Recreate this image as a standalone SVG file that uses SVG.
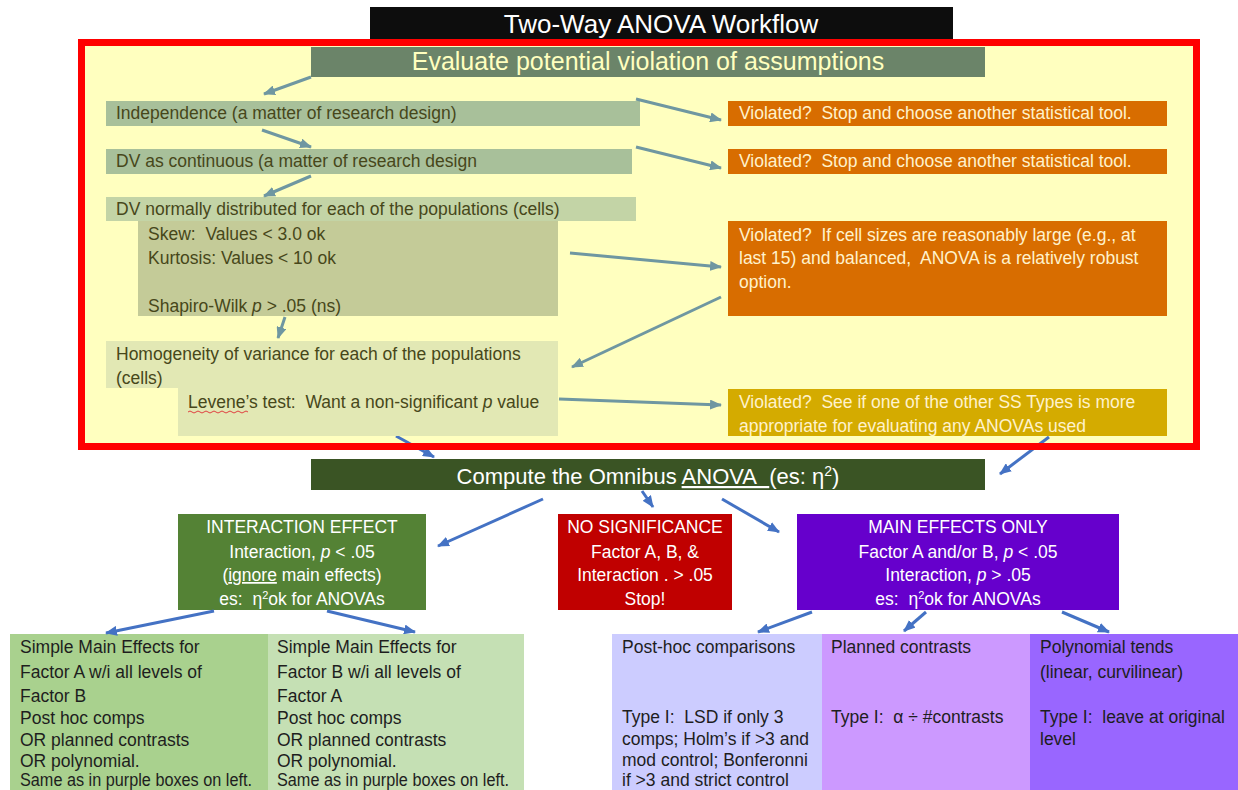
<svg xmlns="http://www.w3.org/2000/svg" width="1238" height="790" viewBox="0 0 1238 790">
<defs>
<marker id="ag" viewBox="0 0 12 10" refX="11" refY="5" markerWidth="12" markerHeight="10" markerUnits="userSpaceOnUse" orient="auto"><path d="M0,0 L12,5 L0,10 z" fill="#6F97A1"/></marker>
<marker id="ab" viewBox="0 0 12 10" refX="11" refY="5" markerWidth="12" markerHeight="10" markerUnits="userSpaceOnUse" orient="auto"><path d="M0,0 L12,5 L0,10 z" fill="#4472C4"/></marker>
<style>
text{font-family:"Liberation Sans",Arial,sans-serif;font-size:17.5px}
.ol{fill:#47471A}
.vt{fill:#FFF2CC}
.w{fill:#FFFFFF}
.k{fill:#1E1E1E}
.c{text-anchor:middle}
.gl{stroke:#6F97A1;stroke-width:3;fill:none;marker-end:url(#ag)}
.bl{stroke:#4472C4;stroke-width:3;fill:none;marker-end:url(#ab)}
.it{font-style:italic}
</style>
</defs>
<rect width="1238" height="790" fill="#FFFFFF"/>

<g id="title">
<rect x="370" y="7" width="583" height="33" fill="#0D0D0D"/>
<text x="661" y="33" class="c w" style="font-size:26px">Two-Way ANOVA Workflow</text>
</g>

<g id="frame-fill">
<rect x="81" y="43" width="1116" height="404" fill="#FFFFBF"/>
</g>

<g id="under-frame-connectors">
<line x1="396" y1="436" x2="434" y2="457" class="bl"/>
<line x1="1049" y1="437" x2="1000" y2="474" class="bl"/>
</g>

<g id="frame">
<rect x="81.5" y="42.5" width="1115" height="404" fill="none" stroke="#FF0000" stroke-width="7"/>
</g>

<g id="evaluate">
<rect x="311" y="47" width="674" height="30" fill="#6B8469"/>
<text x="648" y="70" class="c" style="font-size:25px;fill:#FFFFBF">Evaluate potential violation of assumptions</text>
</g>

<g id="independence">
<rect x="106" y="101" width="534" height="25" fill="#A8C09A"/>
<text x="116" y="119" class="ol">Independence (a matter of research design)</text>
</g>

<g id="dv-continuous">
<rect x="106" y="149" width="526" height="25" fill="#A8C09A"/>
<text x="116" y="167" class="ol">DV as continuous (a matter of research design</text>
</g>

<g id="dv-normal">
<rect x="106" y="197" width="530" height="24" fill="#C3D4A6"/>
<text x="116" y="215" class="ol">DV normally distributed for each of the populations (cells)</text>
<rect x="138" y="221" width="420" height="95" fill="#C4CB98"/>
<text x="148" y="240" class="ol">Skew:&#160; Values &lt; 3.0 ok</text>
<text x="148" y="264" class="ol">Kurtosis: Values &lt; 10 ok</text>
<text x="148" y="312" class="ol">Shapiro-Wilk <tspan class="it">p</tspan> &gt; .05 (ns)</text>
</g>

<g id="homogeneity">
<rect x="106" y="341" width="452" height="47" fill="#E2E8B4"/>
<rect x="178" y="388" width="380" height="48" fill="#E2E8B4"/>
<text x="116" y="360" class="ol">Homogeneity of variance for each of the populations</text>
<text x="116" y="384" class="ol">(cells)</text>
<text x="188" y="408" class="ol">Levene’s test:&#160; Want a non-significant <tspan class="it">p</tspan> value</text>
<path d="M188,412 q2,-2 4,0 t4,0 t4,0 t4,0 t4,0 t4,0 t4,0 t4,0 t4,0 t4,0 t4,0 t4,0 t4,0 t4,0 t4,0" fill="none" stroke="#E04040" stroke-width="1"/>
</g>

<g id="violated-1">
<rect x="728" y="101" width="439" height="25" fill="#D86D00"/>
<text x="739" y="119" class="vt">Violated?&#160; Stop and choose another statistical tool.</text>
</g>

<g id="violated-2">
<rect x="728" y="149" width="439" height="25" fill="#D86D00"/>
<text x="739" y="167" class="vt">Violated?&#160; Stop and choose another statistical tool.</text>
</g>

<g id="violated-3">
<rect x="728" y="221" width="439" height="95" fill="#D86D00"/>
<text x="739" y="241" class="vt">Violated?&#160; If cell sizes are reasonably large (e.g., at</text>
<text x="739" y="264" class="vt">last 15) and balanced,&#160; ANOVA is a relatively robust</text>
<text x="739" y="288" class="vt">option.</text>
</g>

<g id="violated-4">
<rect x="728" y="389" width="439" height="47" fill="#D4AB00"/>
<text x="739" y="408" class="vt">Violated?&#160; See if one of the other SS Types is more</text>
<text x="739" y="432" class="vt">appropriate for evaluating any ANOVAs used</text>
</g>

<g id="compute">
<rect x="311" y="459" width="674" height="31" fill="#3A5424"/>
<text x="648" y="484" class="c w" style="font-size:22px">Compute the Omnibus <tspan text-decoration="underline">ANOVA&#160;&#160;</tspan>(es: η<tspan baseline-shift="super" style="font-size:14px">2</tspan>)</text>
</g>

<g id="interaction">
<rect x="178" y="514" width="248" height="96" fill="#548235"/>
<text x="302" y="533" class="c w">INTERACTION EFFECT</text>
<text x="302" y="558" class="c w">Interaction, <tspan class="it">p</tspan> &lt; .05</text>
<text x="302" y="581" class="c w">(<tspan text-decoration="underline">ignore</tspan> main effects)</text>
<text x="302" y="605" class="c w">es:&#160; η<tspan baseline-shift="super" style="font-size:11px">2</tspan>ok for ANOVAs</text>
</g>

<g id="no-significance">
<rect x="558" y="514" width="174" height="96" fill="#C00000"/>
<text x="645" y="533" class="c w">NO SIGNIFICANCE</text>
<text x="645" y="558" class="c w">Factor A, B, &amp;</text>
<text x="645" y="581" class="c w">Interaction . &gt; .05</text>
<text x="645" y="605" class="c w">Stop!</text>
</g>

<g id="main-effects">
<rect x="797" y="514" width="322" height="96" fill="#6600CC"/>
<text x="958" y="533" class="c w">MAIN EFFECTS ONLY</text>
<text x="958" y="558" class="c w">Factor A and/or B, <tspan class="it">p</tspan> &lt; .05</text>
<text x="958" y="581" class="c w">Interaction, <tspan class="it">p</tspan> &gt; .05</text>
<text x="958" y="605" class="c w">es:&#160; η<tspan baseline-shift="super" style="font-size:11px">2</tspan>ok for ANOVAs</text>
</g>

<g id="simple-a">
<rect x="10" y="634" width="258" height="156" fill="#A9D18E"/>
<text x="20" y="653" class="k">Simple Main Effects for</text>
<text x="20" y="678" class="k">Factor A w/i all levels of</text>
<text x="20" y="702" class="k">Factor B</text>
<text x="20" y="724" class="k">Post hoc comps</text>
<text x="20" y="746" class="k">OR planned contrasts</text>
<text x="20" y="767" class="k">OR polynomial.</text>
<text x="20" y="786" class="k" textLength="232" lengthAdjust="spacingAndGlyphs">Same as in purple boxes on left.</text>
</g>

<g id="simple-b">
<rect x="268" y="634" width="256" height="156" fill="#C5E0B4"/>
<text x="277" y="653" class="k">Simple Main Effects for</text>
<text x="277" y="678" class="k">Factor B w/i all levels of</text>
<text x="277" y="702" class="k">Factor A</text>
<text x="277" y="724" class="k">Post hoc comps</text>
<text x="277" y="746" class="k">OR planned contrasts</text>
<text x="277" y="767" class="k">OR polynomial.</text>
<text x="277" y="786" class="k" textLength="232" lengthAdjust="spacingAndGlyphs">Same as in purple boxes on left.</text>
</g>

<g id="post-hoc">
<rect x="612" y="634" width="210" height="156" fill="#CCCCFF"/>
<text x="622" y="653" class="k">Post-hoc comparisons</text>
<text x="622" y="723" class="k">Type I:&#160; LSD if only 3</text>
<text x="622" y="745" class="k">comps; Holm’s if &gt;3 and</text>
<text x="622" y="766" class="k">mod control; Bonferonni</text>
<text x="622" y="786" class="k">if &gt;3 and strict control</text>
</g>

<g id="planned">
<rect x="822" y="634" width="208" height="156" fill="#CC99FF"/>
<text x="831" y="653" class="k">Planned contrasts</text>
<text x="831" y="723" class="k">Type I:&#160; α ÷ #contrasts</text>
</g>

<g id="polynomial">
<rect x="1030" y="634" width="208" height="156" fill="#9966FF"/>
<text x="1040" y="653" class="k">Polynomial tends</text>
<text x="1040" y="678" class="k">(linear, curvilinear)</text>
<text x="1040" y="723" class="k">Type I:&#160; leave at original</text>
<text x="1040" y="745" class="k">level</text>
</g>

<g id="connectors">
<line x1="311" y1="77" x2="264" y2="94" class="gl"/>
<line x1="262" y1="130" x2="311" y2="147" class="gl"/>
<line x1="311" y1="176" x2="264" y2="196" class="gl"/>
<line x1="636" y1="99" x2="721" y2="120" class="gl"/>
<line x1="636" y1="147" x2="721" y2="168" class="gl"/>
<line x1="570" y1="253" x2="721" y2="267" class="gl"/>
<line x1="721" y1="297" x2="572" y2="367" class="gl"/>
<line x1="285" y1="317" x2="278" y2="338" class="gl"/>
<line x1="559" y1="399" x2="721" y2="405" class="gl"/>
<line x1="543" y1="499" x2="438" y2="546" class="bl"/>
<line x1="642" y1="491" x2="653" y2="507" class="bl"/>
<line x1="722" y1="499" x2="779" y2="532" class="bl"/>
<line x1="214" y1="611" x2="106" y2="633" class="bl"/>
<line x1="327" y1="611" x2="415" y2="632" class="bl"/>
<line x1="812" y1="612" x2="758" y2="632" class="bl"/>
<line x1="926" y1="612" x2="904" y2="631" class="bl"/>
<line x1="1062" y1="612" x2="1109" y2="632" class="bl"/>
</g>
</svg>
